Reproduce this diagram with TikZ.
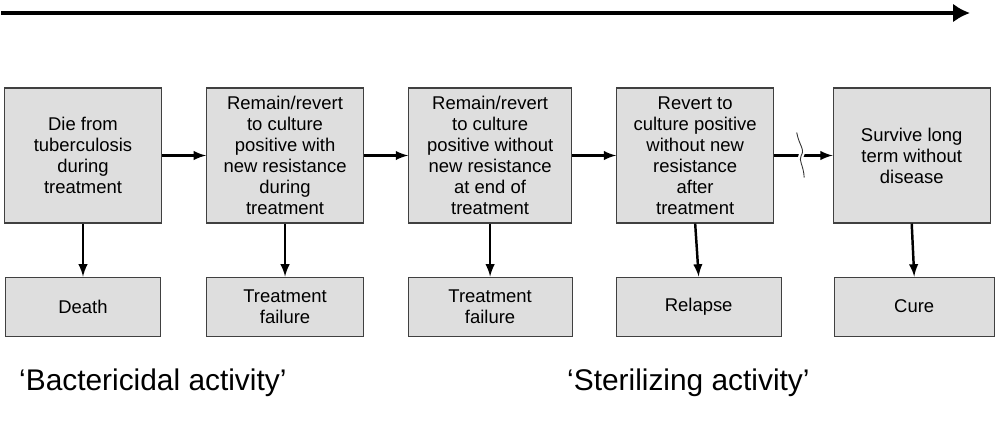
\documentclass[tikz,border=0pt]{standalone}
\usepackage{fontspec}
\setmainfont{Liberation Sans}
\usetikzlibrary{positioning,arrows,arrows.meta}

\begin{document}
\begin{tikzpicture}[
stage/.style={
  draw=black!75,
  fill=black!13,
  line width=0.6pt,
  minimum width=3.14cm,
  minimum height=2.7cm,
  align=center,
  font=\fontsize{10.5}{12}\selectfont
  },
outcome/.style={
  stage,
  minimum height=1.18cm
  },
activity/.style={
  anchor=west,
  font=\fontsize{17}{20}\selectfont
  },
link/.style={
  ->,
  line width=1.4pt
  },
>=latex
]
\useasboundingbox (0,0) rectangle (20,-8.54);

% time axis
\coordinate (tl) at (0.02,-0.26);
\coordinate (tr) at (19.4,-0.26);
\draw[-{Latex[length=0.34cm,width=0.38cm]}, line width=2.8pt] (tl) -- (tr);

% states
\node[stage] (d1) at (1.66,-3.11) {Die from\\tuberculosis\\during\\treatment};
\node[stage, right=0.88cm of d1] (d2) {Remain/revert\\to culture\\positive with\\new resistance\\during\\treatment};
\node[stage, right=0.88cm of d2, minimum width=3.26cm] (d3) {Remain/revert\\to culture\\positive without\\new resistance\\at end of\\treatment};
\node[stage, right=0.88cm of d3] (d4) {Revert to\\culture positive\\without new\\resistance\\after\\treatment};
\node[stage, right=1.17cm of d4] (d5) {Survive long\\term without\\disease};

% outcomes
\node[outcome, below=1.06cm of d1, minimum width=3.1cm] (o1) {Death};
\node[outcome, below=1.06cm of d2] (o2) {Treatment\\failure};
\node[outcome, below=1.06cm of d3, minimum width=3.28cm] (o3) {Treatment\\failure};
\node[outcome, below=1.06cm of d4, xshift=0.07cm, minimum width=3.3cm] (o4) {Relapse};
\node[outcome, below=1.06cm of d5, xshift=0.05cm, minimum width=3.2cm] (o5) {Cure};

\foreach \i [count=\j from 2] in {1,2,3,4}
  \draw[link] (d\i) -- (d\j);
\foreach \i in {1,...,5}
  \draw[link] (d\i.south) -- (o\i.north);

% break in time
\coordinate[right=0.54cm of d4] (brk);
\begin{scope}[shift={(brk)}]
\draw[white, line width=3pt] (-0.09,0.3) .. controls (-0.04,0.15) and (0.08,0.1) .. (0,0) .. controls (-0.06,-0.1) and (0.05,-0.15) .. (0.06,-0.3);
\draw[black!80, line width=0.5pt] (-0.09,0.46) .. controls (-0.04,0.2) and (0.08,0.12) .. (0,0) .. controls (-0.06,-0.1) and (0.05,-0.2) .. (0.06,-0.44);
\end{scope}

\node[activity] (bact) at (0.26,-7.66) {‘Bactericidal activity’};
\node[activity] (ster) at (11.22,-7.66) {‘Sterilizing activity’};
\end{tikzpicture}
\end{document}
